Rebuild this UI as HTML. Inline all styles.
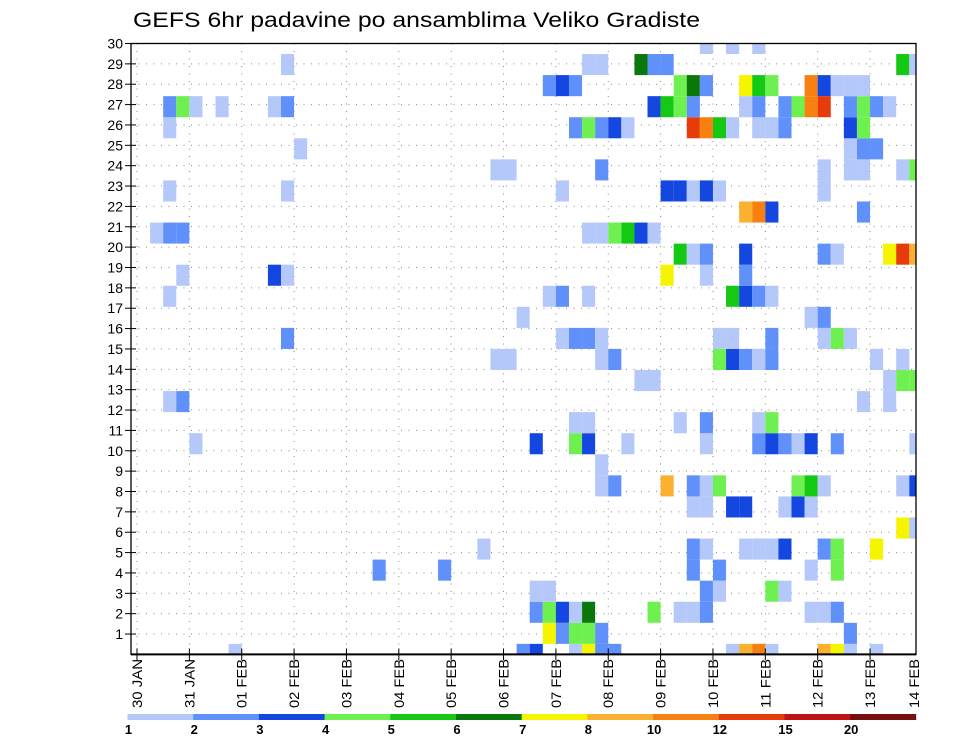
<!DOCTYPE html>
<html><head><meta charset="utf-8"><style>
html,body{margin:0;padding:0;background:#fff;}
svg{display:block;font-family:"Liberation Sans",sans-serif;}
</style></head><body>
<svg id="chart" width="960" height="742" viewBox="0 0 960 742" xmlns="http://www.w3.org/2000/svg">
<rect width="960" height="742" fill="#fff"/>
<text x="133" y="27" font-size="21" textLength="567" lengthAdjust="spacingAndGlyphs" fill="#000">GEFS 6hr padavine po ansamblima Veliko Gradiste</text>
<defs><clipPath id="plotclip"><rect x="131" y="43.5" width="785" height="611"/></clipPath></defs>
<g id="grid"></g>
<g id="cells" clip-path="url(#plotclip)"></g>
<g id="axes"></g>
<g id="colorbar"></g>
</svg>
<script>
// day labels on x axis
const dayLabels = ["30 JAN","31 JAN","01 FEB","02 FEB","03 FEB","04 FEB","05 FEB","06 FEB","07 FEB","08 FEB","09 FEB","10 FEB","11 FEB","12 FEB","13 FEB","14 FEB"];
// y tick labels (ensemble members)
const yTickLabels = [1,2,3,4,5,6,7,8,9,10,11,12,13,14,15,16,17,18,19,20,21,22,23,24,25,26,27,28,29,30];
// colour scale thresholds (mm)
const levels = [1,2,3,4,5,6,7,8,10,12,15,20];
const levelColors = ["#b4c8fa","#6090fa","#1446e0","#6ef050","#14c814","#0a780a","#f5f500","#fbb030","#f88010","#e63c0a","#c01414","#781010"];
// precip per member: "timestep:code" where code is the class (1..9,a,b,c)
const codeValues = {"1":1.5,"2":2.5,"3":3.5,"4":4.5,"5":5.5,"6":6.5,"7":7.5,"8":9,"9":11,"a":13.5,"b":17.5,"c":25};
const memberValues = [
"7:1 29:2 30:3 33:1 34:7 35:2 36:2 45:1 46:8 47:9 48:1 52:8 53:7 54:1 56:1",
"31:7 32:2 33:4 34:4 35:2 54:2",
"30:2 31:4 32:3 33:1 34:6 39:4 41:1 42:1 43:2 51:1 52:1 53:2",
"30:1 31:1 43:2 44:1 48:4 49:1",
"18:2 23:2 42:2 44:2 51:1 53:4",
"26:1 42:2 43:1 46:1 47:1 48:1 49:3 52:2 53:4 56:7",
"58:7 59:1",
"42:1 43:1 45:3 46:3 49:1 50:3 51:1",
"35:1 36:2 40:8 42:2 43:1 44:4 50:4 51:5 52:1 58:1 59:3",
"35:1",
"4:1 30:3 33:4 34:3 37:1 43:1 47:2 48:3 49:2 50:1 51:3 53:2 59:1",
"33:1 34:1 41:1 43:2 47:1 48:4",
"2:1 3:2 55:1 57:1",
"38:1 39:1 57:1 58:4 59:4",
"27:1 28:1 35:1 36:2 44:4 45:3 46:2 47:1 48:2 56:1 58:1",
"11:2 32:1 33:2 34:2 35:1 44:1 45:1 48:2 52:1 53:4 54:1",
"29:1 51:1 52:2",
"2:1 31:1 32:2 34:1 45:5 46:3 47:2 48:1",
"3:1 10:3 11:1 40:7 43:1 46:2",
"41:5 42:1 43:2 46:3 52:2 53:1 57:7 58:a 59:8",
"1:1 2:2 3:2 34:1 35:1 36:4 37:5 38:3 39:1",
"46:8 47:9 48:3 55:2",
"2:1 11:1 32:1 40:3 41:3 42:1 43:3 44:1 52:1",
"27:1 28:1 35:2 52:1 54:1 55:1 58:1 59:4",
"12:1 54:1 55:2 56:2",
"2:1 33:2 34:4 35:2 36:3 37:1 42:a 43:9 44:5 45:1 47:1 48:1 49:2 54:3 55:4",
"2:2 3:4 4:1 6:1 10:1 11:2 39:3 40:5 41:4 42:2 46:1 47:2 49:2 50:4 51:9 52:a 54:2 55:4 56:2 57:1",
"31:2 32:3 33:2 41:4 42:6 43:2 46:7 47:5 48:4 51:9 52:3 53:1 54:1 55:1",
"11:1 34:1 35:1 38:6 39:2 40:2 58:5 59:1",
"43:1 45:1 47:1"
];

const NS="http://www.w3.org/2000/svg";
const X0=137, STEP=13.09, PL=131, PR=916, PT=43.5, PB=654.4;
const CELLH=(PB-PT)/29;
function xScale(t){return X0+t*STEP;}
function yCell(k){return PB-k*CELLH;}
function yTick(n){return PB-n*(PB-PT)/30;}
function colorFor(v){let c=null;for(let i=0;i<levels.length;i++){if(v>=levels[i])c=levelColors[i];}return c;}
function mk(tag,attrs,parent){const e=document.createElementNS(NS,tag);for(const k in attrs)e.setAttribute(k,attrs[k]);parent.appendChild(e);return e;}

const grid=document.getElementById('grid'), cells=document.getElementById('cells'), axes=document.getElementById('axes'), cb=document.getElementById('colorbar');

// grid lines
yTickLabels.forEach(n=>{
  const l=mk('line',{x1:PL,x2:PR,y1:yTick(n),y2:yTick(n),stroke:'#888','stroke-width':1,'stroke-dasharray':'1 6.5'},grid);
  
  
});
dayLabels.forEach((d,i)=>{
  const x=xScale(i*4); if(x>PR) return;
  const l=mk('line',{x1:x,x2:x,y1:PT,y2:PB,stroke:'#888','stroke-width':1,'stroke-dasharray':'1 6.5'},grid);
  
  
});

// cells
memberValues.forEach((row,k)=>{
  row.split(' ').forEach(tok=>{
    if(!tok) return;
    const [t,c]=tok.split(':');
    const v=codeValues[c];
    const col=colorFor(v); if(!col) return;
    const r=mk('rect',{x:xScale(+t),y:yCell(k)-CELLH/2,width:STEP,height:CELLH,fill:col},cells);
    
    
  });
});

// frame
const fr=mk('rect',{x:PL,y:PT,width:PR-PL,height:PB-PT,fill:'none',stroke:'#000','stroke-width':1.3},axes);


mk('line',{x1:PL,x2:PR,y1:PB,y2:PB,stroke:'#000','stroke-width':2},axes);

// y ticks & labels
yTickLabels.forEach(n=>{
  const y=yTick(n);
  mk('line',{x1:PL-6,x2:PL+5,y1:y,y2:y,stroke:'#000','stroke-width':1},axes);
  const t=mk('text',{x:PL-8,y:y+5,'font-size':14,'text-anchor':'end',fill:'#000'},axes);
  t.textContent=n;
  
  
});

// x ticks & labels
dayLabels.forEach((d,i)=>{
  let x=xScale(i*4);
  if(x<=PR) mk('line',{x1:x,x2:x,y1:PB-6,y2:PB+6,stroke:'#000','stroke-width':1},axes);
  x=Math.min(x,914);
  const t=mk('text',{x:0,y:0,'font-size':14,fill:'#000',textLength:49,lengthAdjust:'spacingAndGlyphs',transform:`translate(${x+5},708) rotate(-90)`},axes);
  t.textContent=d;
  
  
});

// colorbar
const CBX=127.5, CBW=65.7;
levelColors.forEach((c,i)=>{
  const r=mk('rect',{x:CBX+i*CBW,y:714,width:CBW+0.3,height:6,fill:c},cb);
  
  
});
levels.forEach((lv,i)=>{
  const t=mk('text',{x:CBX+i*CBW+1,y:734,'font-size':13,'font-weight':'bold','text-anchor':'middle',fill:'#000'},cb);
  t.textContent=lv;
  
  
});
</script>
</body></html>
